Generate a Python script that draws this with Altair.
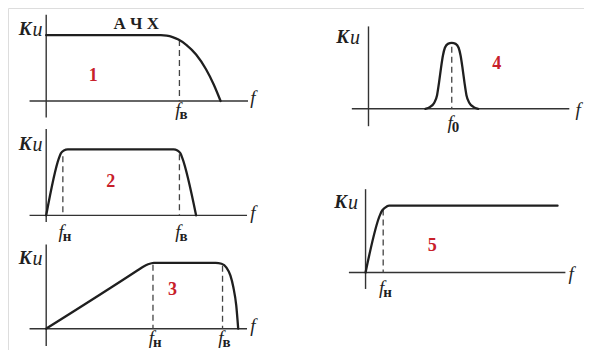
import altair as alt
import pandas as pd

# ---- data (diagram coordinates, pixel-like units) ----
# curves: (x, y) points, y grows downward
curve1_x = [43, 160, 166, 172, 178, 186, 196, 206, 214, 221]
curve1_y = [33, 33, 33.5, 35, 37.5, 43, 53, 68, 84, 101]
curve2_x = [43, 56, 58, 61, 65, 173, 177, 180, 182, 196]
curve2_y = [219, 160, 155, 152, 151, 151, 152, 155, 160, 219]
curve3_x = [43, 136, 142, 147, 153, 216, 222, 227, 231, 234, 237, 239]
curve3_y = [336, 276, 272, 269.5, 268, 268, 269, 273, 281, 293, 312, 336]
curve4_x = [430, 435, 439, 442, 444, 446, 448, 450, 453, 457, 461, 464, 466, 468, 470, 472, 475, 479, 484]
curve4_y = [109, 107, 103, 95, 82, 67, 54, 46, 42, 41, 42, 46, 54, 67, 82, 95, 103, 107, 109]
curve5_x = [369, 384, 386, 389, 393, 565]
curve5_y = [278, 218, 214, 211, 209, 209]

# axes: (x1, y1, x2, y2)
axes_x1 = [43, 26, 43, 26, 43, 26, 372, 355, 369, 352]
axes_y1 = [12, 101, 130, 219, 249, 336, 24, 109, 192, 278]
axes_x2 = [43, 249, 43, 248, 43, 248, 372, 577, 369, 573]
axes_y2 = [118, 101, 226, 219, 354, 336, 127, 109, 295, 278]

# dashed markers: (x, ytop, ybottom)
dash_x = [179, 60, 179, 152, 223, 457, 387]
dash_top = [38, 158, 156, 270, 271, 45, 213]
dash_bot = [101, 219, 219, 336, 336, 109, 278]

# "Ku" labels (position of the boundary between K and u)
ku_x = [28, 28, 28, 352, 350]
ku_y = [27, 145, 263, 35, 205]
# panel numbers
num_text = ["1", "2", "3", "4", "5"]
num_x = [91, 109, 172, 503, 437]
num_y = [75, 185, 296, 63, 251]
# axis "f" labels
faxis_x = [254, 254, 254, 586, 579]
faxis_y = [98, 217, 333, 110, 280]
# frequency markers: base letter f + subscript
fm_x = [179, 60, 179, 152, 223, 457, 387]
fm_y = [110, 236, 236, 346, 346, 124, 294]
fm_sub = ["в", "н", "в", "н", "в", "0", "н"]
title_text = "А Ч Х"
title_x, title_y = 135, 21

# ---- build tables ----
rows = []
for cid, (xs, ys) in enumerate([(curve1_x, curve1_y), (curve2_x, curve2_y), (curve3_x, curve3_y),
                                 (curve4_x, curve4_y), (curve5_x, curve5_y)]):
    for i, (a, b) in enumerate(zip(xs, ys)):
        rows.append({"id": cid, "o": i, "x": a, "y": b})
curves = pd.DataFrame(rows)
axes = pd.DataFrame({"x": axes_x1, "y": axes_y1, "x2": axes_x2, "y2": axes_y2})
dashes = pd.DataFrame({"x": dash_x, "y": dash_top, "y2": dash_bot})
ku = pd.DataFrame({"x": ku_x, "y": ku_y, "k": ["K"] * len(ku_x), "u": ["u"] * len(ku_x)})
nums = pd.DataFrame({"x": num_x, "y": num_y, "t": num_text})
fax = pd.DataFrame({"x": faxis_x, "y": faxis_y, "t": ["f"] * len(faxis_x)})
fm = pd.DataFrame({"x": fm_x, "y": fm_y, "t": ["f"] * len(fm_x), "s": fm_sub})
ttl = pd.DataFrame({"x": [title_x], "y": [title_y], "t": [title_text]})

W, H = 576, 342
xs = alt.Scale(domain=[4, 592], nice=False, zero=False)
ys = alt.Scale(domain=[5, 358], nice=False, zero=False, reverse=True)
X = lambda f="x": alt.X(f"{f}:Q", scale=xs, axis=None)
Y = lambda f="y": alt.Y(f"{f}:Q", scale=ys, axis=None)

serif = "Liberation Serif"
ink = "#1f1f1f"

curve_layer = alt.Chart(curves).mark_line(color=ink, strokeWidth=2.3, interpolate="monotone",
                                          strokeCap="round", strokeJoin="round").encode(
    x=X(), y=Y(), detail="id:N", order="o:Q")
axis_layer = alt.Chart(axes).mark_rule(color="#333333", strokeWidth=1.4).encode(
    x=X(), y=Y(), x2="x2:Q", y2="y2:Q")
dash_layer = alt.Chart(dashes).mark_rule(color="#444444", strokeWidth=1.3, strokeDash=[6, 4]).encode(
    x=X(), y=Y(), y2="y2:Q")
k_layer = alt.Chart(ku).mark_text(font=serif, fontStyle="italic", fontWeight="bold", fontSize=19,
                                  color=ink, align="right", baseline="middle").encode(
    x=X(), y=Y(), text="k:N")
u_layer = alt.Chart(ku).mark_text(font=serif, fontStyle="italic", fontSize=20, color=ink,
                                  align="left", baseline="middle", dx=1, dy=1).encode(
    x=X(), y=Y(), text="u:N")
num_layer = alt.Chart(nums).mark_text(font=serif, fontWeight="bold", fontSize=18, color="#c8202a",
                                      align="center", baseline="middle").encode(
    x=X(), y=Y(), text="t:N")
fax_layer = alt.Chart(fax).mark_text(font=serif, fontStyle="italic", fontSize=19, color=ink,
                                     align="center", baseline="middle").encode(
    x=X(), y=Y(), text="t:N")
fm_layer = alt.Chart(fm).mark_text(font=serif, fontStyle="italic", fontSize=19, color=ink,
                                   align="right", baseline="middle", dx=1).encode(
    x=X(), y=Y(), text="t:N")
fsub_layer = alt.Chart(fm).mark_text(font=serif, fontSize=15, color=ink, fontWeight="bold",
                                     align="left", baseline="middle", dx=0, dy=4).encode(
    x=X(), y=Y(), text="s:N")
title_layer = alt.Chart(ttl).mark_text(font=serif, fontSize=17, fontWeight="bold", color=ink,
                                       align="center", baseline="middle").encode(
    x=X(), y=Y(), text="t:N")

chart = alt.layer(axis_layer, dash_layer, curve_layer, k_layer, u_layer, num_layer, fax_layer,
                  fm_layer, fsub_layer, title_layer).properties(
    width=W, height=H, padding=0, autosize=alt.AutoSizeParams(type="none")
).configure_view(stroke=None).configure(background="white")

chart.save("out.html", embed_options={"renderer": "svg", "actions": False})
